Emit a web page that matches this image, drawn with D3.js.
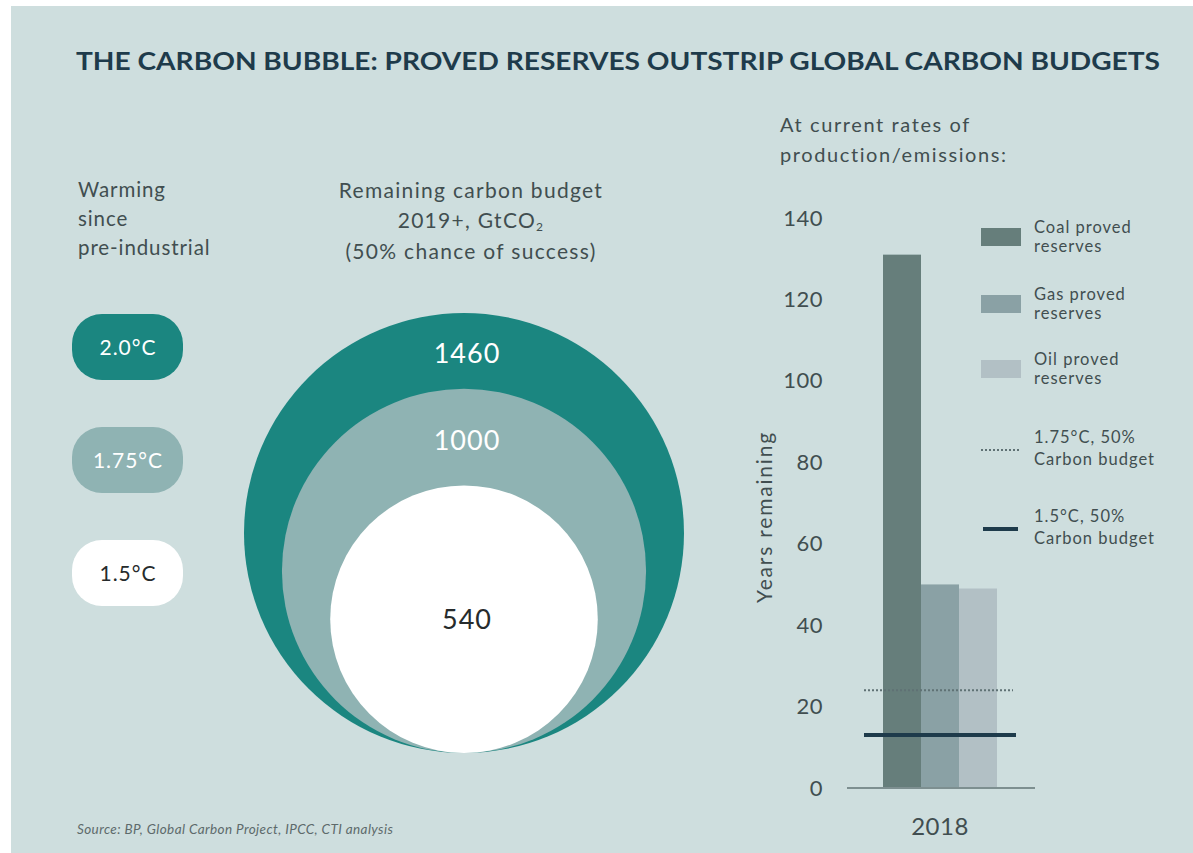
<!DOCTYPE html>
<html>
<head>
<meta charset="utf-8">
<script src="https://cdn.jsdelivr.net/npm/d3@7"></script>
<style>
  body { margin: 0; background: #fff; }
  svg text { font-family: Lato, "Open Sans", sans-serif; }
</style>
</head>
<body>
<div id="chart"></div>
<script>
const width = 1193;
const height = 853;

// data
const warmingLabels = ["2.0°C", "1.75°C", "1.5°C"];
const budgetValues = [1460, 1000, 540];           // GtCO2, 2019+
const fuelNames = [["Coal proved", "reserves"], ["Gas proved", "reserves"], ["Oil proved", "reserves"]];
const fuelKeys = ["coal", "gas", "oil"];
const yearsRemaining = [131, 50, 49];
const budgetLineNames = [["1.75°C, 50%", "Carbon budget"], ["1.5°C, 50%", "Carbon budget"]];
const budgetLineYears = [24, 13];
const yTicks = [0, 20, 40, 60, 80, 100, 120, 140];
const yearLabel = "2018";

const bg = "#cedede";
const teal = "#1b8680";
const midTeal = "#8fb3b3";
const dark = "#1e3b4b";
const grey = "#414e50";
const ringColors = [teal, midTeal, "#ffffff"];
const ringText = ["#ffffff", "#ffffff", "#262b2c"];
const fuelColors = ["#667e7b", "#8aa1a5", "#b2c0c5"];

const svg = d3.select("#chart").append("svg")
    .attr("width", width)
    .attr("height", height);

svg.append("rect").attr("x", 11).attr("y", 6)
    .attr("width", width - 11).attr("height", height - 6)
    .attr("fill", bg);

// title
svg.append("text")
    .attr("x", 76).attr("y", 70)
    .attr("textLength", 1084).attr("lengthAdjust", "spacingAndGlyphs")
    .style("font-size", "25px").style("font-weight", 700)
    .attr("fill", dark)
    .text("THE CARBON BUBBLE: PROVED RESERVES OUTSTRIP GLOBAL CARBON BUDGETS");

// left column: warming labels
const warm = svg.append("text").attr("fill", grey)
    .style("font-size", "20.5px").style("letter-spacing", "0.9px");
["Warming", "since", "pre-industrial"].forEach((t, i) => {
    warm.append("tspan").attr("x", 78).attr("y", 197 + i * 29).text(t);
});

const pillY = d3.scalePoint().domain(warmingLabels).range([347, 573]);
const pills = svg.selectAll(".pill").data(warmingLabels).enter().append("g").attr("class", "pill");
pills.append("rect")
    .attr("x", 72).attr("y", d => pillY(d) - 33)
    .attr("width", 111).attr("height", 66)
    .attr("rx", 30).attr("ry", 30)
    .attr("fill", (d, i) => ringColors[i]);
pills.append("text")
    .attr("x", 128).attr("y", d => pillY(d))
    .attr("dy", "0.36em")
    .attr("text-anchor", "middle")
    .style("font-size", "21px").style("letter-spacing", "1px")
    .attr("fill", (d, i) => ringText[i])
    .text(d => d);

// centre: nested bubbles
const headStyle = t => t.attr("fill", grey).attr("text-anchor", "middle")
    .style("font-size", "21px").style("letter-spacing", "1.3px");
svg.append("text").call(headStyle).attr("x", 471).attr("y", 198).text("Remaining carbon budget");
const l2 = svg.append("text").call(headStyle).attr("x", 471).attr("y", 228).text("2019+, GtCO");
l2.append("tspan").attr("dy", 3).style("font-size", "12px").text("2");
svg.append("text").call(headStyle).attr("x", 471).attr("y", 259).text("(50% chance of success)");

const rScale = d3.scaleSqrt().domain([0, d3.max(budgetValues)]).range([0, 220]);
const cx = 464, bottom = 753;
const bubbles = svg.append("g");
bubbles.selectAll("circle").data(budgetValues).enter().append("circle")
    .attr("cx", cx)
    .attr("cy", d => bottom - rScale(d))
    .attr("r", d => rScale(d))
    .attr("fill", (d, i) => ringColors[i]);

bubbles.selectAll("text").data(budgetValues).enter().append("text")
    .attr("x", cx + 3)
    .attr("y", (d, i) => {
        const top = bottom - 2 * rScale(d);
        if (i === budgetValues.length - 1) return bottom - rScale(d);
        const nextTop = bottom - 2 * rScale(budgetValues[i + 1]);
        return top + (nextTop - top) * 0.53;
    })
    .attr("dy", "0.36em")
    .attr("text-anchor", "middle")
    .style("font-size", "27px").style("letter-spacing", "1px")
    .attr("fill", (d, i) => ringText[i])
    .text(d => d);

// right: bar chart
svg.append("text").attr("fill", grey)
    .style("font-size", "20px").style("letter-spacing", "1.6px")
    .selectAll("tspan").data(["At current rates of", "production/emissions:"]).enter()
    .append("tspan").attr("x", 780).attr("y", (d, i) => 132 + i * 30).text(d => d);

const y = d3.scaleLinear().domain([0, 140]).range([788, 218]);
const x = d3.scaleBand().domain(fuelKeys).range([883, 997]).padding(0);

const yAxis = svg.append("g")
    .attr("transform", "translate(830,0)")
    .call(d3.axisLeft(y).tickValues(yTicks).tickSize(0).tickPadding(7));
yAxis.select(".domain").remove();
yAxis.selectAll("text")
    .style("font-family", "Lato, sans-serif")
    .style("font-size", "22px")
    .style("letter-spacing", "0.5px")
    .attr("fill", grey);

svg.append("text")
    .attr("transform", `translate(772,${(y(0) + y(140)) / 2 + 14}) rotate(-90)`)
    .attr("text-anchor", "middle")
    .style("font-size", "21px").style("letter-spacing", "1.8px")
    .attr("fill", grey)
    .text("Years remaining");

svg.selectAll(".bar").data(yearsRemaining).enter().append("rect")
    .attr("class", "bar")
    .attr("x", (d, i) => x(fuelKeys[i]))
    .attr("width", x.bandwidth())
    .attr("y", d => y(d))
    .attr("height", d => y(0) - y(d))
    .attr("fill", (d, i) => fuelColors[i]);

// baseline
svg.append("line")
    .attr("x1", 847).attr("x2", 1035)
    .attr("y1", y(0)).attr("y2", y(0))
    .attr("stroke", "#7d8f90").attr("stroke-width", 2);

// carbon budget lines
const lineStyles = [
    { stroke: "#5f7174", width: 2, dash: "2,2", x2: 1013 },
    { stroke: dark, width: 4, dash: null, x2: 1016 }
];
svg.selectAll(".budget").data(budgetLineYears).enter().append("line")
    .attr("class", "budget")
    .attr("x1", 864).attr("x2", (d, i) => lineStyles[i].x2)
    .attr("y1", d => y(d)).attr("y2", d => y(d))
    .attr("stroke", (d, i) => lineStyles[i].stroke)
    .attr("stroke-width", (d, i) => lineStyles[i].width)
    .attr("stroke-dasharray", (d, i) => lineStyles[i].dash);

svg.append("text")
    .attr("x", x("gas") + x.bandwidth() / 2).attr("y", 835)
    .attr("text-anchor", "middle")
    .style("font-size", "24px").style("letter-spacing", "0.5px")
    .attr("fill", grey)
    .text(yearLabel);

// legend
const legY = [237, 304, 369];
fuelNames.forEach((lines, i) => {
    svg.append("rect")
        .attr("x", 981).attr("y", legY[i] - 9)
        .attr("width", 40).attr("height", 18)
        .attr("fill", fuelColors[i]);
    const t = svg.append("text").attr("fill", grey)
        .style("font-size", "16.5px").style("letter-spacing", "1px");
    lines.forEach((s, j) => t.append("tspan").attr("x", 1034).attr("y", legY[i] - 4 + j * 19).text(s));
});
const legLineY = [450, 529];
budgetLineNames.forEach((lines, i) => {
    svg.append("line")
        .attr("x1", i ? 983 : 981).attr("x2", i ? 1018 : 1021)
        .attr("y1", legLineY[i]).attr("y2", legLineY[i])
        .attr("stroke", lineStyles[i].stroke)
        .attr("stroke-width", lineStyles[i].width)
        .attr("stroke-dasharray", lineStyles[i].dash);
    const t = svg.append("text").attr("fill", grey)
        .style("font-size", "16.5px").style("letter-spacing", "1px");
    lines.forEach((s, j) => t.append("tspan").attr("x", 1034).attr("y", legLineY[i] - 7 + j * 22).text(s));
});

// source
svg.append("text")
    .attr("x", 77).attr("y", 834)
    .style("font-size", "13.5px").style("font-style", "italic").style("letter-spacing", "0.4px")
    .attr("fill", "#5d6a6b")
    .text("Source: BP, Global Carbon Project, IPCC, CTI analysis");
</script>
</body>
</html>
